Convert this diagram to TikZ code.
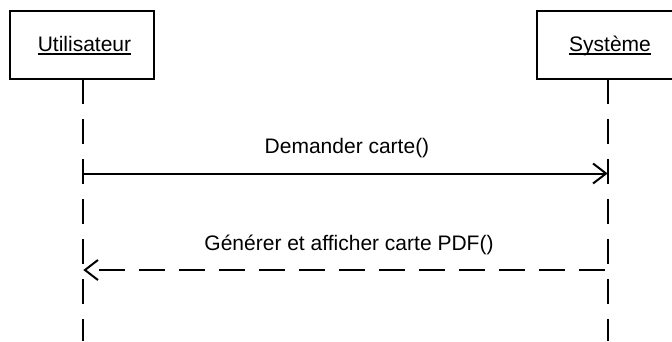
\documentclass[tikz,border=0pt]{standalone}
\usepackage{fontspec}
\setmainfont[Ligatures=NoCommon]{Liberation Sans}
\usetikzlibrary{arrows.meta}
\begin{document}
\begin{tikzpicture}[x=1pt,y=-1pt,
  box/.style={draw=black, line width=2pt, minimum width=144pt, minimum height=68pt, inner sep=0pt, outer sep=0pt, fill=white},
  lbl/.style={inner sep=0pt, outer sep=0pt, anchor=base, font=\fontsize{21}{25}\selectfont},
  lifeline/.style={line width=2pt, dash pattern=on 25pt off 15pt},
  msg/.style={line width=2pt, -{Straight Barb[length=13pt,width=20pt]}},
  reply/.style={msg, dash pattern=on 26pt off 14pt, dash phase=37.3pt},
  uline/.style={line width=1.6pt}]
\fill[white] (0,0) rectangle (672,341);
\useasboundingbox (0,0) rectangle (672,341);
\clip (0,0) rectangle (672,341);
% participants
\node[box] (ubox) at (82,45.2) {};
\node[box] (sbox) at (609,45.2) {};
\node[lbl] (utxt) at (84.5,51) {Utilisateur};
\node[lbl] (stxt) at (610,51) {Système};
\draw[uline] ([yshift=-2.8pt]utxt.base west) -- ([yshift=-2.8pt]utxt.base east);
\draw[uline] ([yshift=-2.8pt]stxt.base west) -- ([yshift=-2.8pt]stxt.base east);
% lifelines
\coordinate (uend) at (83.3,341);
\coordinate (send) at (607.7,341);
\draw[lifeline] (ubox.south -| uend) -- (uend);
\draw[lifeline] (sbox.south -| send) -- (send);
% messages
\coordinate (u1) at (83.3,173.5);
\coordinate (s1) at (607.7,173.5);
\coordinate (u2) at (83.3,270);
\coordinate (s2) at (607.7,270);
\draw[msg] (u1) -- (s1);
\node[lbl] (m1) at (347,153) {Demander carte()};
\draw[reply] (s2) -- (u2);
\node[lbl] (m2) at (349,250) {Générer et afficher carte PDF()};
\end{tikzpicture}
\end{document}
